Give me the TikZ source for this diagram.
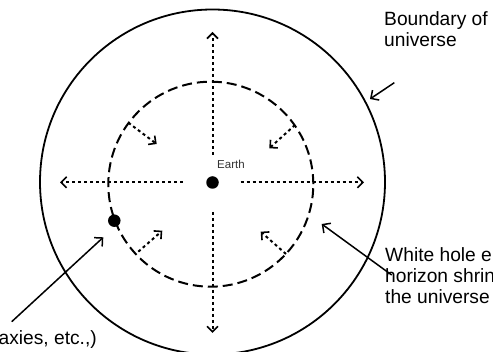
\documentclass[tikz,border=0pt]{standalone}
\usepackage{fontspec}
\setmainfont{Liberation Sans}
\usetikzlibrary{arrows.meta}
\begin{document}
\begin{tikzpicture}[x=1pt,y=-1pt,
  outer/.style={circle,draw,line width=1.8pt,minimum size=345pt,inner sep=0},
  horizon/.style={circle,draw,line width=2pt,dash pattern=on 10pt off 5pt,minimum size=205pt,inner sep=0},
  body/.style={circle,fill,minimum size=12.5pt,inner sep=0},
  flow/.style={line width=2pt,dash pattern=on 3pt off 3pt,-{Straight Barb[length=5.5pt,width=11pt,line width=1.6pt]}},
  pointer/.style={line width=1.5pt,-{Straight Barb[length=6pt,width=12pt]}},
  lbl/.style={font=\fontsize{19.2}{21}\selectfont,inner sep=0,align=left}
]
\useasboundingbox (0,0) rectangle (493,352);
\begin{scope}
\clip (0,0) rectangle (493,352);
\node[outer] (universe) at (212.5,182) {};
\node[horizon] (horizon) at (210.8,184.2) {};
\node[body] (earth) at (212.5,182.5) {};
\node[body] (galaxy) at (114.3,220.7) {};
\node[anchor=base west,inner sep=0,font=\fontsize{11.5}{13}\selectfont,text=black!80] (earthlbl) at (217,169) {Earth};
% expansion arrows from Earth
\coordinate (u0) at (212.5,155); \coordinate (u1) at (212.5,32);
\coordinate (d0) at (212.5,212); \coordinate (d1) at (212.5,333);
\coordinate (l0) at (182.7,182.3); \coordinate (l1) at (60,182.3);
\coordinate (r0) at (240.7,182.3); \coordinate (r1) at (364,182.3);
\draw[flow] (u0) -- (u1);
\draw[flow] (d0) -- (d1);
\draw[flow] (l0) -- (l1);
\draw[flow] (r0) -- (r1);
% horizon shrinking arrows
\coordinate (a0) at (128.3,122.7); \coordinate (a1) at (156.7,144);
\coordinate (b0) at (295,125); \coordinate (b1) at (269.3,148.3);
\coordinate (c0) at (138.3,251.7); \coordinate (c1) at (162.3,230.7);
\coordinate (e0) at (286,254); \coordinate (e1) at (260.7,231.7);
\draw[flow] (a0) -- (a1);
\draw[flow] (b0) -- (b1);
\draw[flow] (c0) -- (c1);
\draw[flow] (e0) -- (e1);
% labels
\node[lbl,anchor=base west] (bnd) at (384,46.7) {Boundary of\\universe};
\node[lbl,anchor=base west] (white) at (385,304) {White hole e\\horizon shrin\\the universe};
\node[lbl,anchor=base east] (matter) at (97,345) {axies, etc.,)};
\coordinate (p0) at (394.3,82.7); \coordinate (p1) at (370,99);
\coordinate (q0) at (391.7,275); \coordinate (q1) at (321.7,224);
\coordinate (m0) at (11.7,321.7); \coordinate (m1) at (103.3,237.3);
\draw[pointer] (p0) -- (p1);
\draw[pointer] (q0) -- (q1);
\draw[pointer] (m0) -- (m1);
\end{scope}
\end{tikzpicture}
\end{document}
